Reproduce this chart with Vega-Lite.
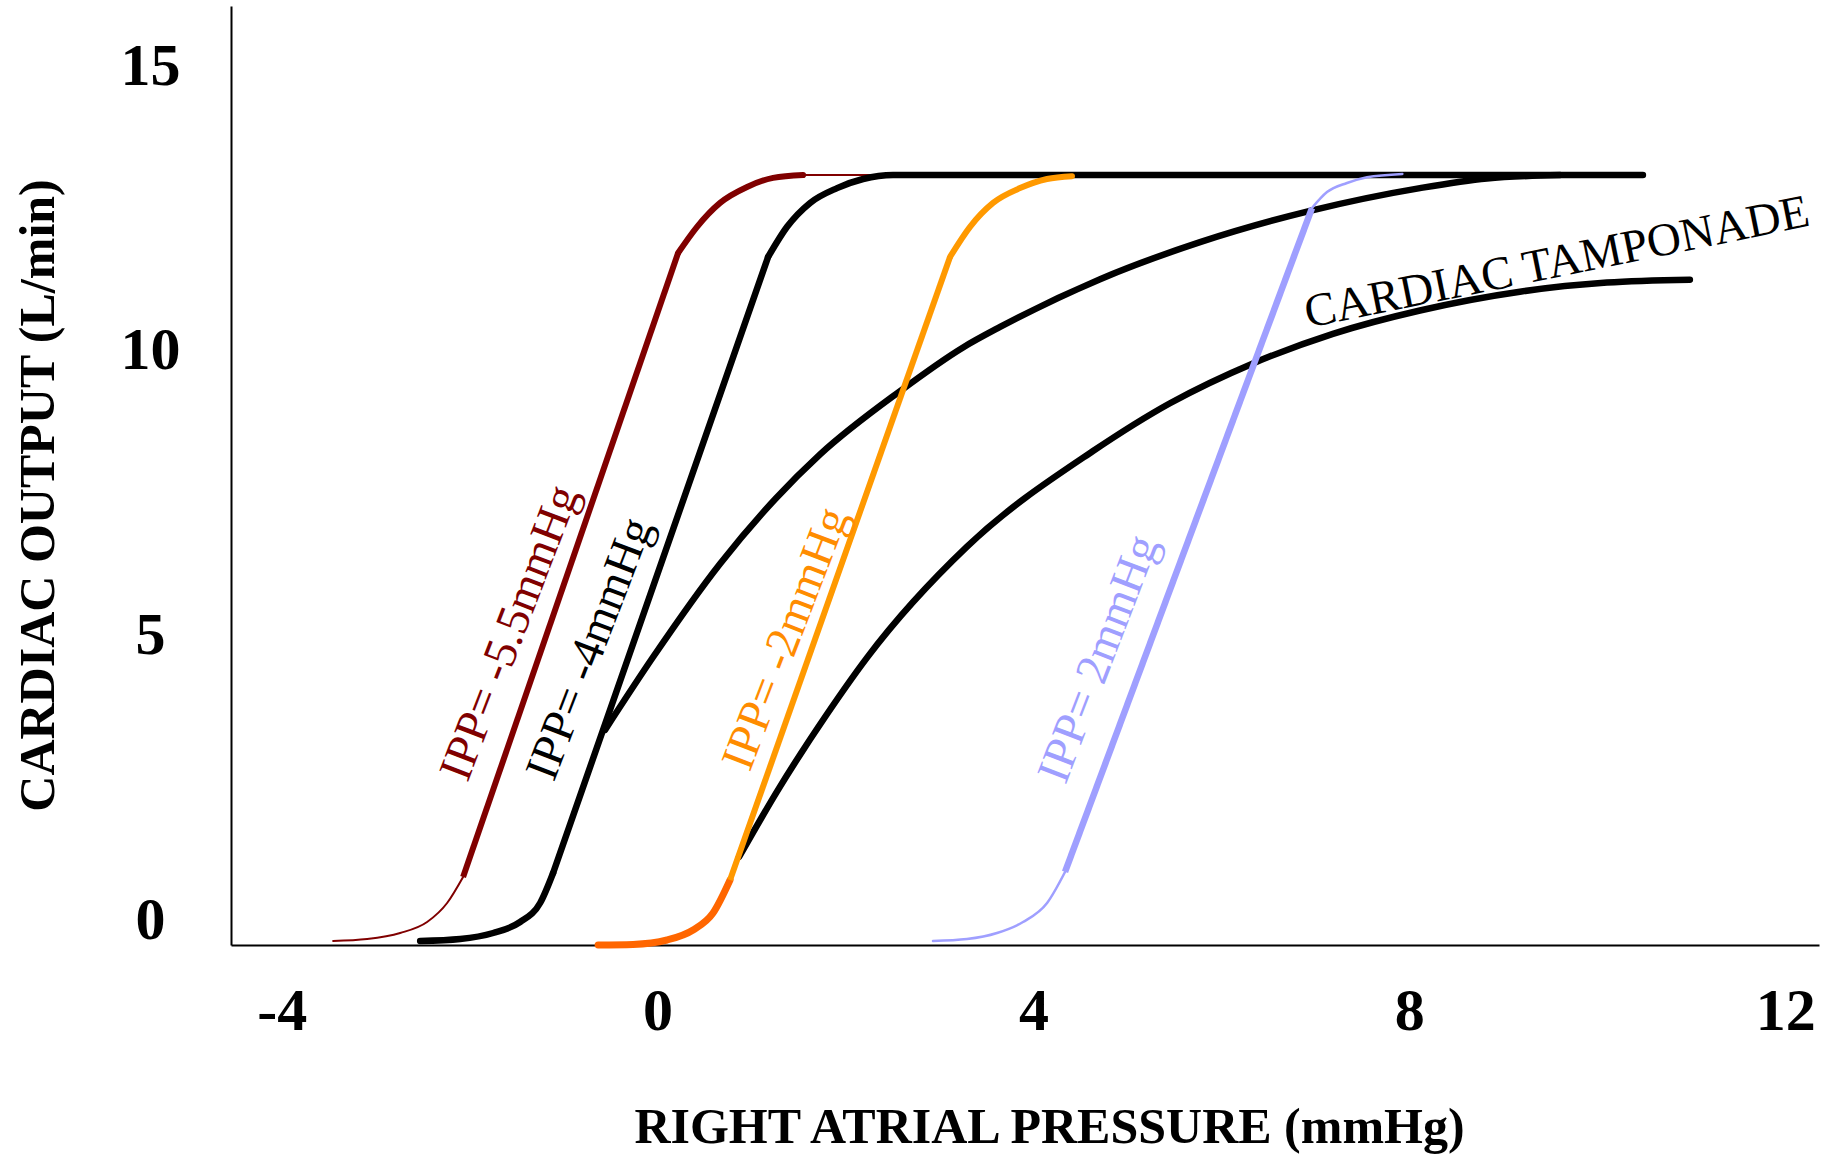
{
  "$schema": "https://vega.github.io/schema/vega-lite/v6.json",
  "autosize": {"type": "none"},
  "padding": {"left": 231, "top": 6, "right": 12, "bottom": 209},
  "width": 1588,
  "height": 939,
  "background": "white",
  "config": {
    "view": {"stroke": null},
    "font": "Liberation Serif"
  },
  "datasets": {
    "curves": [
      {"seg": "IPP -5.5 foot", "x": -3.453, "y": 0.07},
      {"seg": "IPP -5.5 foot", "x": -3.091, "y": 0.105},
      {"seg": "IPP -5.5 foot", "x": -2.740, "y": 0.211},
      {"seg": "IPP -5.5 foot", "x": -2.453, "y": 0.404},
      {"seg": "IPP -5.5 foot", "x": -2.240, "y": 0.738},
      {"seg": "IPP -5.5 foot", "x": -2.070, "y": 1.195},
      {"seg": "IPP -5.5 ramp", "x": -2.070, "y": 1.195},
      {"seg": "IPP -5.5 ramp", "x": 0.218, "y": 12.16},
      {"seg": "IPP -5.5 shoulder", "x": 0.218, "y": 12.16},
      {"seg": "IPP -5.5 shoulder", "x": 0.420, "y": 12.62},
      {"seg": "IPP -5.5 shoulder", "x": 0.665, "y": 13.04},
      {"seg": "IPP -5.5 shoulder", "x": 0.952, "y": 13.32},
      {"seg": "IPP -5.5 shoulder", "x": 1.229, "y": 13.48},
      {"seg": "IPP -5.5 shoulder", "x": 1.548, "y": 13.53},
      {"seg": "IPP -5.5 plateau", "x": 1.548, "y": 13.53},
      {"seg": "IPP -5.5 plateau", "x": 2.548, "y": 13.53},
      {"seg": "IPP -4 foot", "x": -2.527, "y": 0.07},
      {"seg": "IPP -4 foot", "x": -2.101, "y": 0.105},
      {"seg": "IPP -4 foot", "x": -1.750, "y": 0.211},
      {"seg": "IPP -4 foot", "x": -1.463, "y": 0.404},
      {"seg": "IPP -4 foot", "x": -1.250, "y": 0.738},
      {"seg": "IPP -4 foot", "x": -1.112, "y": 1.265},
      {"seg": "IPP -4 ramp", "x": -1.112, "y": 1.265},
      {"seg": "IPP -4 ramp", "x": 1.176, "y": 12.09},
      {"seg": "IPP -4 shoulder", "x": 1.176, "y": 12.09},
      {"seg": "IPP -4 shoulder", "x": 1.378, "y": 12.62},
      {"seg": "IPP -4 shoulder", "x": 1.623, "y": 13.04},
      {"seg": "IPP -4 shoulder", "x": 1.910, "y": 13.30},
      {"seg": "IPP -4 shoulder", "x": 2.187, "y": 13.46},
      {"seg": "IPP -4 shoulder", "x": 2.506, "y": 13.53},
      {"seg": "IPP -4 shoulder", "x": 10.486, "y": 13.53},
      {"seg": "IPP -2 foot", "x": -0.633, "y": 0.0},
      {"seg": "IPP -2 foot", "x": -0.261, "y": 0.01},
      {"seg": "IPP -2 foot", "x": 0.101, "y": 0.088},
      {"seg": "IPP -2 foot", "x": 0.378, "y": 0.264},
      {"seg": "IPP -2 foot", "x": 0.590, "y": 0.562},
      {"seg": "IPP -2 foot", "x": 0.771, "y": 1.142},
      {"seg": "IPP -2 ramp", "x": 0.771, "y": 1.142},
      {"seg": "IPP -2 ramp", "x": 3.112, "y": 12.09},
      {"seg": "IPP -2 shoulder", "x": 3.112, "y": 12.09},
      {"seg": "IPP -2 shoulder", "x": 3.325, "y": 12.62},
      {"seg": "IPP -2 shoulder", "x": 3.570, "y": 13.04},
      {"seg": "IPP -2 shoulder", "x": 3.857, "y": 13.30},
      {"seg": "IPP -2 shoulder", "x": 4.144, "y": 13.46},
      {"seg": "IPP -2 shoulder", "x": 4.410, "y": 13.51},
      {"seg": "IPP 2 foot", "x": 2.931, "y": 0.07},
      {"seg": "IPP 2 foot", "x": 3.293, "y": 0.105},
      {"seg": "IPP 2 foot", "x": 3.612, "y": 0.211},
      {"seg": "IPP 2 foot", "x": 3.889, "y": 0.404},
      {"seg": "IPP 2 foot", "x": 4.145, "y": 0.738},
      {"seg": "IPP 2 foot", "x": 4.336, "y": 1.283},
      {"seg": "IPP 2 ramp", "x": 4.336, "y": 1.283},
      {"seg": "IPP 2 ramp", "x": 6.964, "y": 12.95},
      {"seg": "IPP 2 shoulder", "x": 6.964, "y": 12.95},
      {"seg": "IPP 2 shoulder", "x": 7.124, "y": 13.23},
      {"seg": "IPP 2 shoulder", "x": 7.337, "y": 13.39},
      {"seg": "IPP 2 shoulder", "x": 7.550, "y": 13.49},
      {"seg": "IPP 2 shoulder", "x": 7.926, "y": 13.55},
      {"seg": "unlabelled curve", "x": -0.559, "y": 3.78},
      {"seg": "unlabelled curve", "x": -0.048, "y": 5.06},
      {"seg": "unlabelled curve", "x": 0.665, "y": 6.70},
      {"seg": "unlabelled curve", "x": 1.26, "y": 7.85},
      {"seg": "unlabelled curve", "x": 1.729, "y": 8.62},
      {"seg": "unlabelled curve", "x": 2.570, "y": 9.72},
      {"seg": "unlabelled curve", "x": 3.251, "y": 10.50},
      {"seg": "unlabelled curve", "x": 3.645, "y": 10.86},
      {"seg": "unlabelled curve", "x": 4.709, "y": 11.70},
      {"seg": "unlabelled curve", "x": 5.773, "y": 12.35},
      {"seg": "unlabelled curve", "x": 6.943, "y": 12.90},
      {"seg": "unlabelled curve", "x": 8.113, "y": 13.30},
      {"seg": "unlabelled curve", "x": 8.826, "y": 13.47},
      {"seg": "unlabelled curve", "x": 9.603, "y": 13.53},
      {"seg": "CARDIAC TAMPONADE", "x": 0.867, "y": 1.547},
      {"seg": "CARDIAC TAMPONADE", "x": 1.272, "y": 2.70},
      {"seg": "CARDIAC TAMPONADE", "x": 1.80, "y": 4.05},
      {"seg": "CARDIAC TAMPONADE", "x": 2.229, "y": 5.05},
      {"seg": "CARDIAC TAMPONADE", "x": 3.293, "y": 7.00},
      {"seg": "CARDIAC TAMPONADE", "x": 4.634, "y": 8.68},
      {"seg": "CARDIAC TAMPONADE", "x": 5.453, "y": 9.52},
      {"seg": "CARDIAC TAMPONADE", "x": 6.336, "y": 10.22},
      {"seg": "CARDIAC TAMPONADE", "x": 7.187, "y": 10.74},
      {"seg": "CARDIAC TAMPONADE", "x": 8.113, "y": 11.15},
      {"seg": "CARDIAC TAMPONADE", "x": 9.177, "y": 11.48},
      {"seg": "CARDIAC TAMPONADE", "x": 10.103, "y": 11.64},
      {"seg": "CARDIAC TAMPONADE", "x": 10.986, "y": 11.69}
    ],
    "ippLabels": [
      {"label": "IPP= -5.5mmHg", "x": -1.569, "y": 5.483},
      {"label": "IPP= -4mmHg", "x": -0.718, "y": 5.202},
      {"label": "IPP= -2mmHg", "x": 1.367, "y": 5.378},
      {"label": "IPP= 2mmHg", "x": 4.697, "y": 5.026}
    ],
    "tamponadeLabel": [
      {"label": "CARDIAC TAMPONADE", "x": 9.571, "y": 11.986}
    ]
  },
  "encoding": {
    "x": {
      "field": "x", "type": "quantitative",
      "scale": {"domain": [-4.54, 12.36], "nice": false, "zero": false},
      "axis": {
        "values": [-4, 0, 4, 8, 12],
        "labelExpr": "'' + datum.value",
        "grid": false, "ticks": false, "tickSize": 0,
        "domainColor": "black", "domainWidth": 2,
        "labelFont": "Liberation Serif", "labelFontWeight": "bold", "labelFontSize": 60,
        "labelColor": "black", "labelPadding": 66, "labelBaseline": "middle",
        "labelFlush": false, "labelOverlap": false, "labelBound": false,
        "title": "RIGHT ATRIAL PRESSURE (mmHg)",
        "titleFont": "Liberation Serif", "titleFontWeight": "bold", "titleFontSize": 50,
        "titleColor": "black", "titleX": 818, "titleY": 197,
        "titleAlign": "center", "titleBaseline": "alphabetic"
      }
    },
    "y": {
      "field": "y", "type": "quantitative",
      "scale": {"domain": [0, 16.5], "nice": false, "zero": false},
      "axis": {
        "values": [0, 5, 10, 15],
        "labelExpr": "'' + datum.value",
        "grid": false, "ticks": false, "tickSize": 0,
        "domainColor": "black", "domainWidth": 2,
        "labelFont": "Liberation Serif", "labelFontWeight": "bold", "labelFontSize": 60,
        "labelColor": "black", "labelPadding": 81, "labelAlign": "center",
        "labelBaseline": "middle", "labelOffset": -25,
        "labelFlush": false, "labelOverlap": false, "labelBound": false,
        "title": "CARDIAC OUTPUT (L/min)",
        "titleFont": "Liberation Serif", "titleFontWeight": "bold", "titleFontSize": 50,
        "titleColor": "black", "titleX": -178, "titleY": 489,
        "titleAngle": -90, "titleAlign": "center", "titleBaseline": "alphabetic"
      }
    }
  },
  "layer": [
    {
      "data": {"name": "curves"},
      "transform": [{"filter": {"field": "seg", "oneOf": ["IPP -5.5 foot", "IPP -5.5 plateau"]}}],
      "mark": {"type": "line", "interpolate": "monotone", "strokeCap": "round", "color": "#800000", "strokeWidth": 2},
      "encoding": {"detail": {"field": "seg", "type": "nominal"}}
    },
    {
      "data": {"name": "curves"},
      "transform": [{"filter": {"field": "seg", "equal": "IPP -5.5 ramp"}}],
      "mark": {"type": "line", "interpolate": "linear", "strokeCap": "butt", "color": "#800000", "strokeWidth": 6},
      "encoding": {"detail": {"field": "seg", "type": "nominal"}}
    },
    {
      "data": {"name": "curves"},
      "transform": [{"filter": {"field": "seg", "equal": "IPP -5.5 shoulder"}}],
      "mark": {"type": "line", "interpolate": "monotone", "strokeCap": "round", "color": "#800000", "strokeWidth": 6},
      "encoding": {"detail": {"field": "seg", "type": "nominal"}}
    },
    {
      "data": {"name": "curves"},
      "transform": [{"filter": {"field": "seg", "oneOf": ["IPP -4 foot", "IPP -4 shoulder", "unlabelled curve", "CARDIAC TAMPONADE"]}}],
      "mark": {"type": "line", "interpolate": "monotone", "strokeCap": "round", "color": "#000000", "strokeWidth": 6.5},
      "encoding": {"detail": {"field": "seg", "type": "nominal"}}
    },
    {
      "data": {"name": "curves"},
      "transform": [{"filter": {"field": "seg", "equal": "IPP -4 ramp"}}],
      "mark": {"type": "line", "interpolate": "linear", "strokeCap": "round", "color": "#000000", "strokeWidth": 6.5},
      "encoding": {"detail": {"field": "seg", "type": "nominal"}}
    },
    {
      "data": {"name": "curves"},
      "transform": [{"filter": {"field": "seg", "equal": "IPP -2 foot"}}],
      "mark": {"type": "line", "interpolate": "monotone", "strokeCap": "round", "color": "#FF6600", "strokeWidth": 7},
      "encoding": {"detail": {"field": "seg", "type": "nominal"}}
    },
    {
      "data": {"name": "curves"},
      "transform": [{"filter": {"field": "seg", "equal": "IPP -2 ramp"}}],
      "mark": {"type": "line", "interpolate": "linear", "strokeCap": "butt", "color": "#FF9900", "strokeWidth": 6},
      "encoding": {"detail": {"field": "seg", "type": "nominal"}}
    },
    {
      "data": {"name": "curves"},
      "transform": [{"filter": {"field": "seg", "equal": "IPP -2 shoulder"}}],
      "mark": {"type": "line", "interpolate": "monotone", "strokeCap": "round", "color": "#FF9900", "strokeWidth": 6},
      "encoding": {"detail": {"field": "seg", "type": "nominal"}}
    },
    {
      "data": {"name": "curves"},
      "transform": [{"filter": {"field": "seg", "oneOf": ["IPP 2 foot", "IPP 2 shoulder"]}}],
      "mark": {"type": "line", "interpolate": "monotone", "strokeCap": "round", "color": "#9F9FFF", "strokeWidth": 2.5},
      "encoding": {"detail": {"field": "seg", "type": "nominal"}}
    },
    {
      "data": {"name": "curves"},
      "transform": [{"filter": {"field": "seg", "equal": "IPP 2 ramp"}}],
      "mark": {"type": "line", "interpolate": "linear", "strokeCap": "butt", "color": "#9F9FFF", "strokeWidth": 6.5},
      "encoding": {"detail": {"field": "seg", "type": "nominal"}}
    },
    {
      "data": {"name": "ippLabels"},
      "mark": {"type": "text", "angle": -69, "font": "Liberation Serif", "fontSize": 47, "align": "center", "baseline": "middle"},
      "encoding": {
        "text": {"field": "label", "type": "nominal"},
        "color": {
          "field": "label", "type": "nominal", "legend": null,
          "scale": {
            "domain": ["IPP= -5.5mmHg", "IPP= -4mmHg", "IPP= -2mmHg", "IPP= 2mmHg"],
            "range": ["#800000", "#000000", "#FF8C00", "#9F9FFF"]
          }
        }
      }
    },
    {
      "data": {"name": "tamponadeLabel"},
      "mark": {"type": "text", "angle": -11.5, "font": "Liberation Serif", "fontSize": 47, "align": "center", "baseline": "middle", "color": "black"},
      "encoding": {
        "text": {"field": "label", "type": "nominal"}
      }
    }
  ]
}
